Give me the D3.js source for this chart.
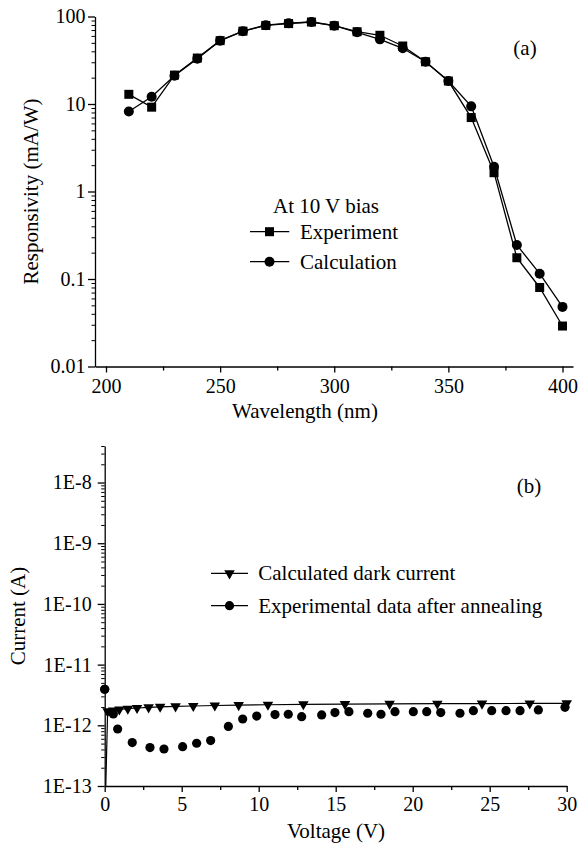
<!DOCTYPE html>
<html>
<head>
<meta charset="utf-8">
<script src="https://cdn.jsdelivr.net/npm/d3@7"></script>
<style>
  html, body { margin: 0; padding: 0; background: #fff; }
</style>
</head>
<body>
<svg id="chart" width="581" height="850"></svg>
<script>
// (a) Spectral responsivity at 10 V bias
const wavelength = [210, 220, 230, 240, 250, 260, 270, 280, 290, 300, 310, 320, 330, 340, 350, 360, 370, 380, 390, 400];
const experiment = [12.9, 9.2, 21.4, 33.5, 53, 68, 79, 83, 86.5, 78.5, 67, 61, 46, 30.4, 18.3, 7.0, 1.64, 0.175, 0.080, 0.029];
const calculation = [8.2, 12.1, 21, 33, 53, 68, 79.5, 84, 86.5, 78.5, 66, 54.8, 43.3, 30.4, 18.3, 9.4, 1.92, 0.245, 0.115, 0.048];
const waveTicks = [200, 250, 300, 350, 400];
const waveMinor = [225, 275, 325, 375];
const respTicks = [0.01, 0.1, 1, 10, 100];
const respLabels = ["0.01", "0.1", "1", "10", "100"];

// (b) Dark current versus voltage
const calcVoltage = [0.05, 0.19, 0.55, 0.95, 1.5, 2.1, 2.85, 3.6, 4.6, 5.75, 7.15, 8.7, 10.6, 12.9, 15.6, 18.5, 21.6, 24.5, 27.6, 30];
const calcCurrent = [6e-14, 1.7e-12, 1.75e-12, 1.82e-12, 1.88e-12, 1.93e-12, 1.98e-12, 2.02e-12, 2.05e-12, 2.08e-12, 2.12e-12, 2.15e-12, 2.18e-12, 2.22e-12, 2.24e-12, 2.26e-12, 2.27e-12, 2.28e-12, 2.29e-12, 2.3e-12];
const expVoltage = [0, 0.56, 0.84, 1.79, 2.94, 3.85, 5.06, 5.97, 6.88, 8.03, 8.96, 9.87, 11.06, 11.92, 12.79, 14.09, 14.95, 15.86, 17.08, 17.94, 18.85, 20.04, 20.91, 21.82, 23.07, 23.94, 25.13, 26.06, 26.97, 28.16, 29.89];
const expCurrent = [3.93e-12, 1.54e-12, 8.7e-13, 5.2e-13, 4.3e-13, 4.07e-13, 4.44e-13, 5.06e-13, 5.6e-13, 9.6e-13, 1.27e-12, 1.42e-12, 1.5e-12, 1.52e-12, 1.39e-12, 1.48e-12, 1.62e-12, 1.68e-12, 1.58e-12, 1.52e-12, 1.68e-12, 1.68e-12, 1.68e-12, 1.62e-12, 1.58e-12, 1.74e-12, 1.74e-12, 1.74e-12, 1.74e-12, 1.79e-12, 1.98e-12];
const voltTicks = [0, 5, 10, 15, 20, 25, 30];
const voltMinor = [2.5, 7.5, 12.5, 17.5, 22.5, 27.5];
const currTicks = [1e-13, 1e-12, 1e-11, 1e-10, 1e-9, 1e-8];
const currLabels = ["1E-13", "1E-12", "1E-11", "1E-10", "1E-9", "1E-8"];

const FONT = "Liberation Serif";
const svg = d3.select("#chart");
const LW = 1.3;

// log minor ticks (2..9 per decade) inside a domain
function logMinor(lo, hi) {
  const out = [];
  for (let e = Math.floor(Math.log10(lo)); e <= Math.ceil(Math.log10(hi)); e++) {
    for (let m = 2; m <= 9; m++) {
      const v = m * Math.pow(10, e);
      if (v > lo * 1.0001 && v < hi * 1.0001) out.push(v);
    }
  }
  return out;
}

function styleAxis(g) {
  g.attr("font-family", null);
  g.selectAll("path.domain").attr("stroke", "#000").attr("stroke-width", LW);
  g.selectAll(".tick line").attr("stroke", "#000").attr("stroke-width", LW);
  g.selectAll(".tick text").style("font-size", "20px").attr("fill", "#000");
}

// ---------- Panel (a) ----------
const xA = d3.scaleLinear().domain([195.18, 404.6]).range([95, 573]);
const yA = d3.scaleLog().domain([0.01, 100]).range([366.5, 16.5]);

const gxA = svg.append("g").attr("transform", `translate(0,${yA(0.01)})`)
  .call(d3.axisBottom(xA).tickValues(waveTicks).tickFormat(d3.format("d")).tickSize(6).tickSizeOuter(0).tickPadding(6.5));
styleAxis(gxA);
svg.append("g").attr("transform", `translate(0,${yA(0.01)})`)
  .call(d3.axisBottom(xA).tickValues(waveMinor).tickFormat("").tickSize(4).tickSizeOuter(0))
  .call(g => { g.select("path.domain").remove(); g.selectAll("line").attr("stroke", "#000").attr("stroke-width", LW); });

const gyA = svg.append("g").attr("transform", `translate(${xA(195.18)},0)`)
  .call(d3.axisLeft(yA).tickValues(respTicks).tickFormat((d, i) => respLabels[i]).tickSize(7).tickSizeOuter(0).tickPadding(2.5));
styleAxis(gyA);
svg.append("g").attr("transform", `translate(${xA(195.18)},0)`)
  .call(d3.axisLeft(yA).tickValues(logMinor(0.01, 100)).tickFormat("").tickSize(3.5).tickSizeOuter(0))
  .call(g => { g.select("path.domain").remove(); g.selectAll("line").attr("stroke", "#000").attr("stroke-width", 1); });

svg.append("text").attr("x", 305).attr("y", 418).attr("text-anchor", "middle")
  .style("font-size", "21px").text("Wavelength (nm)");
svg.append("text").attr("transform", "translate(38,191.5) rotate(-90)").attr("text-anchor", "middle")
  .style("font-size", "21px").text("Responsivity (mA/W)");
svg.append("text").attr("x", 525).attr("y", 55).attr("text-anchor", "middle")
  .style("font-size", "21px").text("(a)");

const lineA = (vals) => d3.line().x((d, i) => xA(wavelength[i])).y(d => yA(d))(vals);
svg.append("path").attr("d", lineA(experiment)).attr("fill", "none").attr("stroke", "#000").attr("stroke-width", LW);
svg.append("path").attr("d", lineA(calculation)).attr("fill", "none").attr("stroke", "#000").attr("stroke-width", LW);

const sq = 9;
svg.append("g").selectAll("rect").data(experiment).join("rect")
  .attr("x", (d, i) => xA(wavelength[i]) - sq / 2).attr("y", d => yA(d) - sq / 2)
  .attr("width", sq).attr("height", sq).attr("fill", "#000");
svg.append("g").selectAll("circle").data(calculation).join("circle")
  .attr("cx", (d, i) => xA(wavelength[i])).attr("cy", d => yA(d)).attr("r", 5).attr("fill", "#000");

// legend (a)
svg.append("text").attr("x", 273).attr("y", 213).style("font-size", "21px").text("At 10 V bias");
const legA = [{ label: "Experiment", y: 231.7, shape: "square" }, { label: "Calculation", y: 261.7, shape: "circle" }];
legA.forEach(l => {
  svg.append("line").attr("x1", 250).attr("x2", 289.3).attr("y1", l.y).attr("y2", l.y)
    .attr("stroke", "#000").attr("stroke-width", LW);
  if (l.shape === "square") {
    svg.append("rect").attr("x", 269.5 - sq / 2).attr("y", l.y - sq / 2).attr("width", sq).attr("height", sq).attr("fill", "#000");
  } else {
    svg.append("circle").attr("cx", 269.5).attr("cy", l.y).attr("r", 5).attr("fill", "#000");
  }
  svg.append("text").attr("x", 300).attr("y", l.y + 7.5).style("font-size", "21px").text(l.label);
});

// ---------- Panel (b) ----------
const xB = d3.scaleLinear().domain([0, 30]).range([104.7, 566.7]);
const yB = d3.scaleLog().domain([1e-13, 4e-8]).range([786, 446]);

svg.append("defs").append("clipPath").attr("id", "clipB")
  .append("rect").attr("x", 95).attr("y", 440).attr("width", 480).attr("height", 786 - 440);

const gxB = svg.append("g").attr("transform", `translate(0,${yB(1e-13)})`)
  .call(d3.axisBottom(xB).tickValues(voltTicks).tickFormat(d3.format("d")).tickSize(6).tickSizeOuter(0).tickPadding(5));
styleAxis(gxB);
svg.append("g").attr("transform", `translate(0,${yB(1e-13)})`)
  .call(d3.axisBottom(xB).tickValues(voltMinor).tickFormat("").tickSize(4).tickSizeOuter(0))
  .call(g => { g.select("path.domain").remove(); g.selectAll("line").attr("stroke", "#000").attr("stroke-width", LW); });

const gyB = svg.append("g").attr("transform", `translate(${xB(0)},0)`)
  .call(d3.axisLeft(yB).tickValues(currTicks).tickFormat((d, i) => currLabels[i]).tickSize(7).tickSizeOuter(0).tickPadding(6));
styleAxis(gyB);
svg.append("g").attr("transform", `translate(${xB(0)},0)`)
  .call(d3.axisLeft(yB).tickValues(logMinor(1e-13, 4e-8)).tickFormat("").tickSize(3.5).tickSizeOuter(0))
  .call(g => { g.select("path.domain").remove(); g.selectAll("line").attr("stroke", "#000").attr("stroke-width", 1); });

svg.append("text").attr("x", 336).attr("y", 838).attr("text-anchor", "middle")
  .style("font-size", "21px").text("Voltage (V)");
svg.append("text").attr("transform", "translate(25,616) rotate(-90)").attr("text-anchor", "middle")
  .style("font-size", "21px").text("Current (A)");
svg.append("text").attr("x", 529).attr("y", 493).attr("text-anchor", "middle")
  .style("font-size", "21px").text("(b)");

const plotB = svg.append("g").attr("clip-path", "url(#clipB)");
plotB.append("path")
  .attr("d", d3.line().x((d, i) => xB(calcVoltage[i])).y(d => yB(d))(calcCurrent))
  .attr("fill", "none").attr("stroke", "#000").attr("stroke-width", 1.2);

const tri = d3.symbol().type(d3.symbolTriangle).size(48);
plotB.append("g").selectAll("path").data(calcCurrent).join("path")
  .attr("d", tri)
  .attr("transform", (d, i) => `translate(${xB(calcVoltage[i])},${yB(d)}) rotate(180)`)
  .attr("fill", "#000");
plotB.append("g").selectAll("circle").data(expCurrent).join("circle")
  .attr("cx", (d, i) => xB(expVoltage[i])).attr("cy", d => yB(d)).attr("r", 4.6).attr("fill", "#000");
// the V = 0 point sits on the axis, draw it unclipped
svg.append("circle").attr("cx", xB(expVoltage[0])).attr("cy", yB(expCurrent[0])).attr("r", 4.6).attr("fill", "#000");

// legend (b)
const legB = [{ label: "Calculated dark current", y: 573.3, shape: "tri" }, { label: "Experimental data after annealing", y: 605.7, shape: "circle" }];
legB.forEach(l => {
  svg.append("line").attr("x1", 211).attr("x2", 248).attr("y1", l.y).attr("y2", l.y)
    .attr("stroke", "#000").attr("stroke-width", LW);
  if (l.shape === "tri") {
    svg.append("path").attr("d", tri).attr("transform", `translate(229.5,${l.y}) rotate(180)`).attr("fill", "#000");
  } else {
    svg.append("circle").attr("cx", 229.5).attr("cy", l.y).attr("r", 4.6).attr("fill", "#000");
  }
  svg.append("text").attr("x", 258.3).attr("y", l.y + 6.8).style("font-size", "21px").text(l.label);
});

// one serif face for every label
svg.selectAll("text").style("font-family", FONT);
</script>
</body>
</html>
